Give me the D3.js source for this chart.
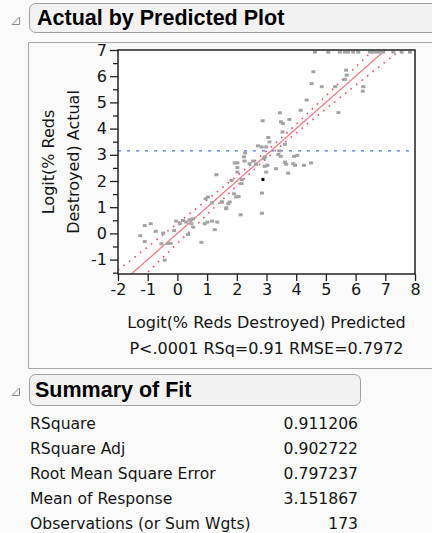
<!DOCTYPE html>
<html>
<head>
<meta charset="utf-8">
<script src="https://cdn.jsdelivr.net/npm/d3@7"></script>
<style>
  html, body { margin: 0; padding: 0; background: #fafafa; }
  svg { display: block; }
  text { font-family: "DejaVu Sans", Verdana, sans-serif; fill: #151515; }
  .hdr { font-family: "Liberation Sans", Arial, sans-serif; font-weight: bold; font-size: 21.5px; fill: #000; }
</style>
</head>
<body>
<svg id="chart" width="432" height="533"></svg>
<script>
// Predicted vs actual logit(% reds destroyed)
const predicted = [
  -0.43, -1.25, -1.10, -0.90, -1.10, -0.73, -0.54, -0.48, -0.32, -0.23,
  -0.11, -0.04, 0.08, 0.19, 0.30, 0.41, 0.53, 0.47, 0.53, 0.36,
  0.81, 0.92, 1.01, 1.17, 1.34, 1.26, 0.95, 1.03, 1.17, 1.31,
  1.50, 1.65, 1.76, 1.82, 1.91, 1.98, 2.06, 2.13, 1.93, 2.02,
  2.02, 2.02, 2.17, 2.16, 2.24, 2.26, 2.28, 2.43, 2.55, 2.65,
  2.71, 2.84, 2.85, 2.85, 2.94, 2.92, 2.99, 2.94, 2.99, 3.03,
  3.06, 3.10, 2.87, 3.45, 3.49, 3.55, 3.77, 3.54, 3.62, 3.43,
  3.40, 3.48, 3.62, 3.66, 3.32, 3.73, 3.93, 4.04, 3.90, 3.96,
  4.26, 4.50, 4.15, 4.35, 4.52, 4.58, 4.86, 5.31, 5.42, 5.64,
  5.70, 5.68, 6.26, 6.24, 1.64, 1.71, 1.49,
  4.63, 5.08, 5.47, 5.64, 5.75, 5.92, 6.09, 6.48, 6.59, 6.71,
  6.82, 6.93, 7.27, 7.55, 7.83
];
const actual = [
  -1.02, -0.09, 0.30, 0.37, -0.31, 0.08, -0.40, 0.01, -0.38, -0.38,
  0.11, 0.47, 0.37, 0.49, 0.43, 0.52, 0.56, 0.37, 0.24, -0.04,
  -0.34, 0.37, 0.43, 0.47, 0.43, 0.14, 1.32, 1.39, 1.17, 2.24,
  1.20, 0.98, 1.20, 2.02, 1.51, 1.39, 1.41, 0.71, 2.69, 2.69,
  2.34, 2.51, 2.05, 1.90, 2.92, 2.76, 3.07, 2.66, 2.76, 2.64,
  3.34, 3.30, 1.54, 0.77, 2.92, 2.85, 3.30, 2.56, 2.34, 2.60,
  3.66, 3.49, 4.30, 4.60, 4.26, 4.19, 4.35, 3.87, 3.40, 3.15,
  3.01, 2.94, 2.72, 2.64, 2.47, 2.30, 2.94, 2.98, 2.66, 2.60,
  2.60, 2.69, 4.70, 5.09, 5.72, 6.17, 5.60, 5.60, 4.61, 5.88,
  6.04, 6.23, 5.60, 5.43, 0.94, 1.13, 1.20,
  6.92, 6.92, 6.92, 6.92, 6.92, 6.92, 6.92, 6.92, 6.92, 6.92,
  6.92, 6.92, 6.92, 6.92, 6.92
];
// Highlighted (selected) row
const selectedPoint = { predicted: 2.88, actual: 2.06 };

const xTicks = [-2, -1, 0, 1, 2, 3, 4, 5, 6, 7, 8];
const yTicks = [-1, 0, 1, 2, 3, 4, 5, 6, 7];
const yMinorTicks = [-1.5, -0.5, 0.5, 1.5, 2.5, 3.5, 4.5, 5.5, 6.5];

// Fit statistics
const meanResponse = 3.151867;
const summaryLabels = ["RSquare", "RSquare Adj", "Root Mean Square Error", "Mean of Response", "Observations (or Sum Wgts)"];
const summaryValues = ["0.911206", "0.902722", "0.797237", "3.151867", "173"];
const statsLine = "P<.0001 RSq=0.91 RMSE=0.7972";
// Half-width of the confidence curves around the fit line
const bandNear = 0.14, bandSlope = 0.112;

const svg = d3.select("#chart");

const plot = { left: 118, right: 415, top: 50, bottom: 274 };
const x = d3.scaleLinear().domain([-2, 8]).range([plot.left, plot.right]);
const y = d3.scaleLinear().domain([-1.55, 7]).range([plot.bottom, plot.top]);

// ---- report outline and headers ----
function disclosure(cx, cy) {
  svg.append("path")
    .attr("d", `M${cx + 3.5},${cy - 4} L${cx + 3.5},${cy + 3.5} L${cx - 4},${cy + 3.5} Z`)
    .attr("fill", "none").attr("stroke", "#8a8a8a").attr("stroke-width", 1);
}
svg.append("path")
  .attr("d", "M28.5,368.5 V42.5 H440 M28.5,368.5 H440")
  .attr("fill", "none").attr("stroke", "#a8a8a8");

svg.append("rect").attr("x", 29.5).attr("y", 3.5).attr("width", 430).attr("height", 29)
  .attr("rx", 6).attr("fill", "#f2f2f2").attr("stroke", "#a0a0a0");
disclosure(16, 21);
svg.append("text").attr("class", "hdr").attr("x", 37).attr("y", 25).text("Actual by Predicted Plot");

svg.append("rect").attr("x", 29.5).attr("y", 374.5).attr("width", 331).attr("height", 31)
  .attr("rx", 6).attr("fill", "#f2f2f2").attr("stroke", "#a0a0a0");
disclosure(16, 392);
svg.append("text").attr("class", "hdr").attr("x", 35).attr("y", 397).text("Summary of Fit");

// ---- plot area ----
svg.append("rect")
  .attr("x", plot.left).attr("y", plot.top)
  .attr("width", plot.right - plot.left).attr("height", plot.bottom - plot.top)
  .attr("fill", "#ffffff");

svg.append("clipPath").attr("id", "clip").append("rect")
  .attr("x", plot.left).attr("y", plot.top)
  .attr("width", plot.right - plot.left).attr("height", plot.bottom - plot.top);

const g = svg.append("g").attr("clip-path", "url(#clip)");

// mean of response
g.append("line")
  .attr("x1", plot.left).attr("x2", plot.right)
  .attr("y1", y(meanResponse)).attr("y2", y(meanResponse))
  .attr("stroke", "#4673ea").attr("stroke-width", 1.2)
  .attr("stroke-dasharray", "3,6");

// fit line and confidence curves
const xs = d3.range(-2, 8.01, 0.05);
const half = v => Math.sqrt(bandNear * bandNear + bandSlope * bandSlope * (v - meanResponse) ** 2);
const lineGen = d3.line().x(d => x(d[0])).y(d => y(d[1]));

g.append("path").datum(xs.map(v => [v, v + half(v)])).attr("d", lineGen)
  .attr("fill", "none").attr("stroke", "#f0505e").attr("stroke-width", 1.6)
  .attr("stroke-dasharray", "1.6,5.4");
g.append("path").datum(xs.map(v => [v, v - half(v)])).attr("d", lineGen)
  .attr("fill", "none").attr("stroke", "#f0505e").attr("stroke-width", 1.6)
  .attr("stroke-dasharray", "1.6,5.4");
g.append("path").datum(xs.map(v => [v, v])).attr("d", lineGen)
  .attr("fill", "none").attr("stroke", "#f27c86").attr("stroke-width", 1.3);

// observations
const pts = predicted.map((p, i) => ({ p, a: actual[i] }));
g.selectAll("rect.pt").data(pts).join("rect")
  .attr("class", "pt")
  .attr("x", d => x(d.p) - 2).attr("y", d => y(d.a) - 1.5)
  .attr("width", 4).attr("height", 3)
  .attr("fill", "#a3a3a3");
g.append("rect")
  .attr("x", x(selectedPoint.predicted) - 1.5).attr("y", y(selectedPoint.actual) - 1.5)
  .attr("width", 3).attr("height", 3).attr("fill", "#000");

// frame
svg.append("rect")
  .attr("x", plot.left).attr("y", plot.top)
  .attr("width", plot.right - plot.left).attr("height", plot.bottom - plot.top)
  .attr("fill", "none").attr("stroke", "#222").attr("stroke-width", 1.5);

// ---- axes ----
const xAxis = d3.axisBottom(x).tickValues(xTicks).tickSize(7).tickPadding(3)
  .tickFormat(d => d < 0 ? "-" + Math.abs(d) : String(d));
const gx = svg.append("g").attr("transform", `translate(0,${plot.bottom})`).call(xAxis);
gx.select(".domain").remove();
gx.selectAll("line").attr("stroke", "#222").attr("stroke-width", 1.3);
gx.selectAll("text").attr("font-size", 16).attr("fill", "#151515")
  .attr("font-family", "DejaVu Sans, sans-serif").attr("dy", "0.71em");

const yAxis = d3.axisLeft(y).tickValues(yTicks).tickSize(8).tickPadding(3)
  .tickFormat(d => d < 0 ? "-" + Math.abs(d) : String(d));
const gy = svg.append("g").attr("transform", `translate(${plot.left},0)`).call(yAxis);
gy.select(".domain").remove();
gy.selectAll("line").attr("stroke", "#222").attr("stroke-width", 1.3);
gy.selectAll("text").attr("font-size", 16).attr("fill", "#151515")
  .attr("font-family", "DejaVu Sans, sans-serif");

const gyMinor = svg.append("g").attr("transform", `translate(${plot.left},0)`)
  .call(d3.axisLeft(y).tickValues(yMinorTicks).tickSize(5).tickFormat(""));
gyMinor.select(".domain").remove();
gyMinor.selectAll("line").attr("stroke", "#222").attr("stroke-width", 1.3);

// axis titles
const midX = (plot.left + plot.right) / 2;
svg.append("text").attr("x", midX).attr("y", 328).attr("text-anchor", "middle")
  .attr("font-size", 16).text("Logit(% Reds Destroyed) Predicted");
svg.append("text").attr("x", midX).attr("y", 354).attr("text-anchor", "middle")
  .attr("font-size", 16).text(statsLine);

const midY = (plot.top + plot.bottom) / 2;
const yt = svg.append("text").attr("transform", `translate(54,${midY}) rotate(-90)`)
  .attr("text-anchor", "middle").attr("font-size", 16);
yt.append("tspan").attr("x", 0).attr("dy", 0).text("Logit(% Reds");
yt.append("tspan").attr("x", 0).attr("dy", 24.5).text("Destroyed) Actual");

// ---- summary of fit table ----
const rowY = d3.scalePoint().domain(d3.range(summaryLabels.length)).range([429, 529]);
svg.selectAll("text.slab").data(summaryLabels).join("text")
  .attr("class", "slab").attr("x", 30).attr("y", (d, i) => rowY(i))
  .attr("font-size", 15.6).text(d => d);
svg.selectAll("text.sval").data(summaryValues).join("text")
  .attr("class", "sval").attr("x", 358).attr("y", (d, i) => rowY(i))
  .attr("text-anchor", "end").attr("font-size", 15.6).text(d => d);
</script>
</body>
</html>
